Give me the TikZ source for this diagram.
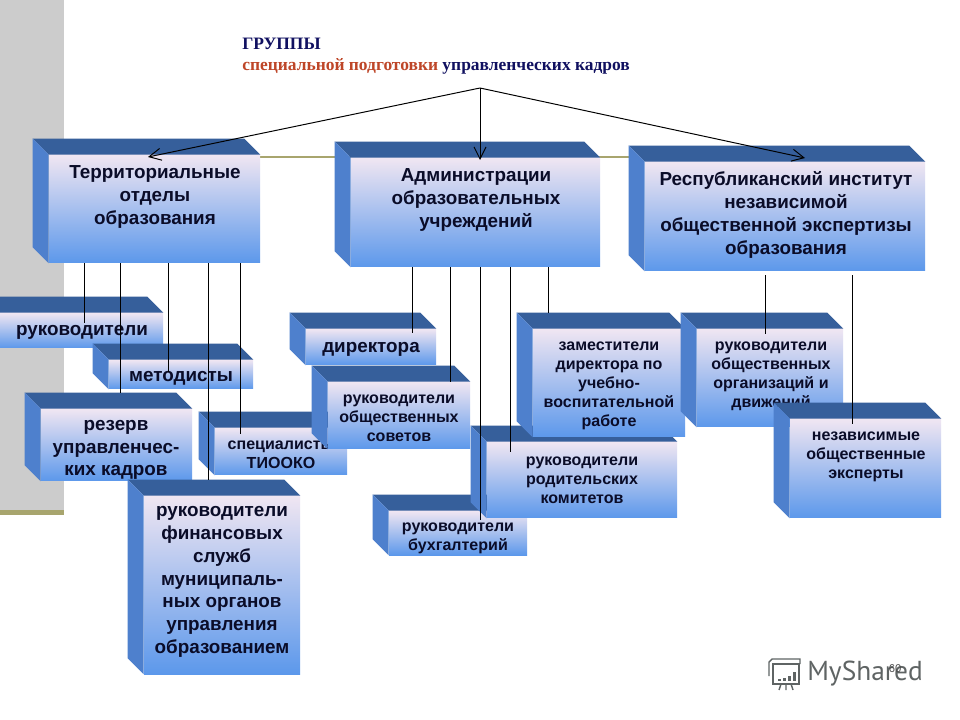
\documentclass[tikz,border=0pt]{standalone}
\usepackage{fontspec}
\setmainfont{Liberation Sans}
\newfontfamily\titlefont{Liberation Serif}
\newfontfamily\logofont{PT Sans}
\usepackage{xcolor}
\usetikzlibrary{fit, arrows.meta}
\definecolor{colorback}{RGB}{204,204,204}
\definecolor{colorolive}{RGB}{168,165,110}
\definecolor{colortop}{RGB}{54,95,155}
\definecolor{colorside}{RGB}{78,128,205}
\definecolor{colorpale}{RGB}{240,230,242}
\definecolor{colormid}{RGB}{155,196,246}
\definecolor{colorlow}{RGB}{92,152,235}
\definecolor{colornavy}{RGB}{16,16,96}
\definecolor{colorred}{RGB}{190,70,40}
\definecolor{colorink}{RGB}{10,12,40}
\definecolor{colorlogo}{RGB}{95,100,100}
\newcommand{\cubebox}[5]{
	\node[frontface, fit={(#2,#3) (#4,#5)}] (#1) {};
	\fill[colortop] (#1.north west) -- ++(-16,-16) -- ([xshift=-0.4cm, yshift=0.4cm]#1.north east) -- (#1.north east) -- cycle;
	\fill[colorside] (#1.north west) -- ++(-16,-16) -- ([xshift=-0.4cm, yshift=0.4cm]#1.south west) -- (#1.south west) -- cycle;
}
\begin{document}
\begin{tikzpicture}[x=0.025cm, y=-0.025cm]
	\tikzstyle{frontface}=[rectangle, inner sep=0pt, top color=colorpale, middle color=colormid, bottom color=colorlow]
	\tikzstyle{boxlabel}=[align=center, inner sep=0pt, text=colorink, yshift=-0.05cm]
	\tikzstyle{bigfont}=[font=\bfseries\fontsize{13.4}{16.2}\selectfont]
	\tikzstyle{midfont}=[font=\bfseries\fontsize{11.4}{13.5}\selectfont]
	\tikzstyle{titletext}=[anchor=west, inner sep=0pt, text=colornavy, font=\titlefont\bfseries\fontsize{12.4}{14}\selectfont]
	\tikzstyle{link}=[black, line width=0.7pt]
	\tikzstyle{arrowlink}=[link, -{Straight Barb[length=3mm, width=3mm]}]

	\clip (0,0) rectangle (960,720);
	\fill[white] (0,0) rectangle (960,720);
	\fill[colorback] (0,0) rectangle (64,510);
	\fill[colorolive] (0,510) rectangle (64,515);
	\fill[colorolive] (64,156) rectangle (630,158.5);

	\node[titletext] (title) at (242,44) {ГРУППЫ};
	\node[titletext] (subtitle) at (242,66.5) {\textcolor{colorred}{специальной подготовки} управленческих кадров};
	\coordinate (apex) at (480,88);

	\cubebox{terr}{49}{155}{260}{263}
	\node[boxlabel, bigfont] (terrtext) at (155,195) {Территориальные\\отделы\\образования};
	\cubebox{admin}{351}{158}{600}{267}
	\node[boxlabel, bigfont] (admintext) at (476,198) {Администрации\\образовательных\\учреждений};
	\cubebox{inst}{645}{162}{925}{271}
	\node[boxlabel, bigfont] (insttext) at (786,213) {Республиканский институт\\независимой\\общественной экспертизы\\образования};

	\cubebox{ruk}{0}{313}{163}{348}
	\node[boxlabel, bigfont] (ruktext) at (82,330) {руководители};
	\cubebox{met}{109}{360}{253}{389}
	\node[boxlabel, bigfont] (mettext) at (181,376) {методисты};
	\cubebox{rez}{41}{409}{192}{481}
	\node[boxlabel, bigfont] (reztext) at (116,448) {резерв\\управленчес-\\ких кадров};
	\cubebox{spec}{215}{428}{347}{475}
	\node[boxlabel, midfont] (spectext) at (281,453) {специалисты\\ТИООКО};
	\cubebox{fin}{144}{496}{300}{674}
	\node[boxlabel, bigfont] (fintext) at (222,580) {руководители\\финансовых\\служб\\муниципаль-\\ных органов\\управления\\образованием};

	\cubebox{dir}{306}{329}{436}{365}
	\node[boxlabel, bigfont] (dirtext) at (371,347) {директора};
	\cubebox{sov}{328}{382}{470}{449}
	\node[boxlabel, midfont] (sovtext) at (399,416) {руководители\\общественных\\советов};
	\cubebox{buh}{389}{511}{527}{555}
	\node[boxlabel, midfont] (buhtext) at (458,536) {руководители\\бухгалтерий};
	\cubebox{rod}{487}{442}{677}{518}
	\node[boxlabel, midfont] (rodtext) at (582,478) {руководители\\родительских\\комитетов};
	\cubebox{zam}{533}{329}{685}{437}
	\node[boxlabel, midfont] (zamtext) at (609,384) {заместители\\директора по\\учебно-\\воспитательной\\работе};

	\cubebox{org}{697}{329}{843}{427}
	\node[boxlabel, midfont] (orgtext) at (771,374) {руководители\\общественных\\организаций и\\движений};
	\cubebox{nez}{790}{419}{941}{518}
	\node[boxlabel, midfont] (neztext) at (866,455) {независимые\\общественные\\эксперты};

	\draw[arrowlink] (apex) -- (148,157);
	\draw[arrowlink] (apex) -- (480,160);
	\draw[arrowlink] (apex) -- (805,158);

	\foreach \x/\b/\d in {84/ruk/10, 120/rez/-16, 168/met/12, 208/fin/-16, 240/spec/6}{
		\draw[link] (\x,0 |- terr.south) -- ([yshift=-\d*0.025cm]\x,0 |- \b.north);
	}
	\foreach \x/\b/\d in {412/dir/4, 450/sov/0, 480/buh/9, 510/rod/10, 548/zam/-16}{
		\draw[link] (\x,0 |- admin.south) -- ([yshift=-\d*0.025cm]\x,0 |- \b.north);
	}
	\foreach \x/\b/\d in {765/org/5, 852/nez/5}{
		\draw[link] ([yshift=-0.1cm]\x,0 |- inst.south) -- ([yshift=-\d*0.025cm]\x,0 |- \b.north);
	}

	\node[anchor=west, inner sep=0pt, text=colorlogo, font=\logofont\fontsize{19.5}{22}\selectfont] (logo) at (807,674) {MyShared};
	\draw[colorlogo, line width=1pt] (773,664) rectangle (799,684);
	\draw[colorlogo, line width=1pt] (769,676) -- (769,662) -- (772,659) -- (800,659) -- (800,664);
	\foreach \x/\h in {778/2, 783/3, 788/5, 793/9}{
		\fill[colorlogo] (\x,681) rectangle (\x+3,681-\h);
	}
	\draw[colorlogo, line width=1pt] (781,684) -- (779,690) (786,684) -- (786,690) (791,684) -- (793,690);
	\node[inner sep=0pt, text=black!70, font=\fontsize{8}{9}\selectfont] (pagenum) at (895,669) {60};
\end{tikzpicture}
\end{document}
